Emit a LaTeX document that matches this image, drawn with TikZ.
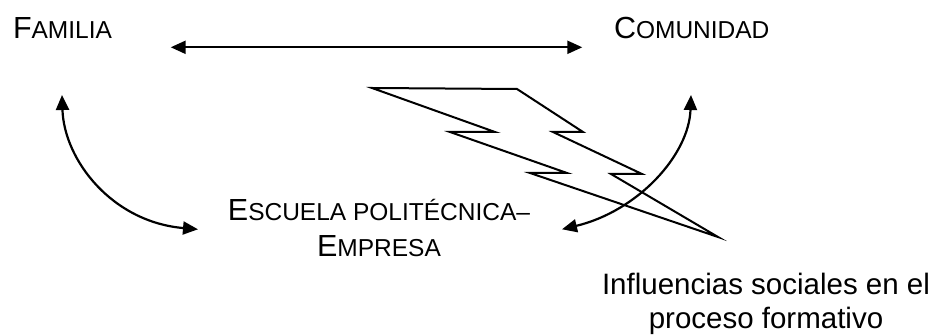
\documentclass[tikz,border=0pt]{standalone}
\usepackage{fontspec}
\setmainfont{Liberation Sans}
\usetikzlibrary{arrows.meta}
\newcommand{\bigsz}{\fontsize{30.5}{36}\selectfont}
\newcommand{\smsz}{\fontsize{24.5}{29}\selectfont}
\newcommand{\fsc}[2]{{\bigsz #1}{\smsz #2}}
\tikzset{
  lbl/.style={inner sep=0pt, outer sep=0pt, font=\bigsz},
  link/.style={line width=2.2pt, {Triangle[length=15pt,width=13pt]}-{Triangle[length=15pt,width=13pt]}},
  bolt/.style={line width=2pt, line join=miter, fill=white}
}
\begin{document}
\begin{tikzpicture}[x=1pt,y=-1pt]
\useasboundingbox (0,0) rectangle (940,336);
% labels
\node[lbl, anchor=base west] (fam) at (13,38.3) {\fsc{F}{AMILIA}};
\node[lbl, anchor=base west] (com) at (614,38.3) {\fsc{C}{OMUNIDAD}};
\node[lbl, anchor=base] (esc1) at (379,220.7) {\fsc{E}{SCUELA POLITÉCNICA–}};
\node[lbl, anchor=base] (esc2) at (379,256.7) {\fsc{E}{MPRESA}};
\node[lbl, anchor=base, font=\fontsize{29.5}{34}\selectfont] (inf1) at (766,295) {Influencias sociales en el};
\node[lbl, anchor=base, font=\fontsize{29.5}{34}\selectfont] (inf2) at (766,328.3) {proceso formativo};
% connector end points
\coordinate (famR) at (170.7,47.3);
\coordinate (comL) at (582.3,47.3);
\coordinate (famB) at (62,95);
\coordinate (escL) at (198,229.3);
\coordinate (comB) at (691,95);
\coordinate (escR) at (562,229.3);
% bolt
\draw[bolt] (372,88) -- (517,89) -- (583,132) -- (553,132) -- (642,174) -- (611,174) -- (718,237)
  -- (530,173) -- (567,173) -- (450,132) -- (495,132) -- cycle;
% connectors
\draw[link] (famR) -- (comL);
\draw[link] (famB) .. controls (64,160) and (112,222) .. (escL);
\draw[link] (comB) .. controls (689,155) and (638,211) .. (escR);
\end{tikzpicture}
\end{document}
